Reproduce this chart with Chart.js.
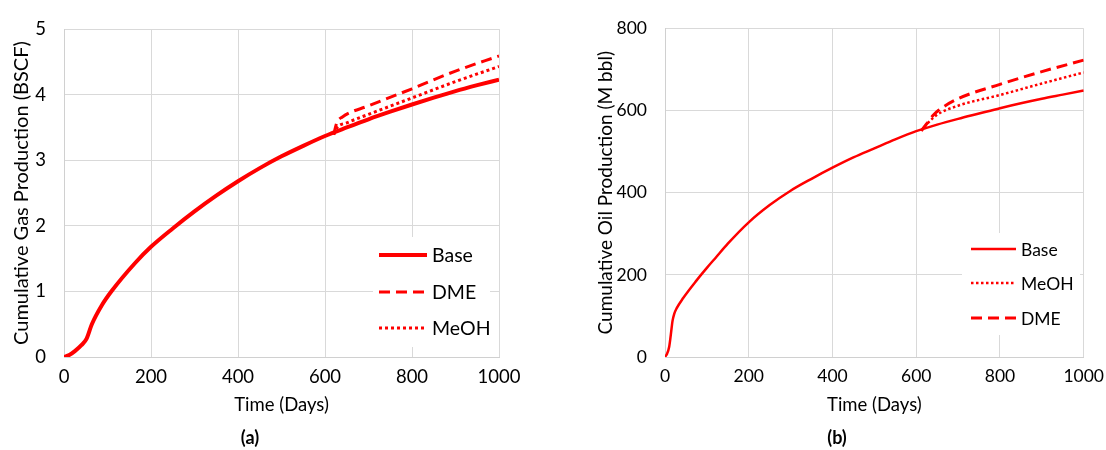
<!DOCTYPE html>
<html lang="en">
  <head>
    <meta charset="utf-8" />
    <script src="https://cdn.jsdelivr.net/npm/chart.js"></script>
    <style>
      body {
        margin: 0;
        width: 1106px;
        height: 450px;
        overflow: hidden;
        background: #fff;
        position: relative;
        font-family: Lato, sans-serif;
      }
      .panel {
        position: absolute;
        top: 0;
      }
      #panelA {
        left: 0;
      }
      #panelB {
        left: 553px;
      }
      .tag {
        position: absolute;
        top: 426px;
        font: bold 18px Lato, sans-serif;
        color: #000;
        transform: translateX(-50%);
      }
    </style>
    <title>Cumulative Production</title>
  </head>

  <body>
    <div class="panel" id="panelA">
      <canvas id="gasChart" width="553" height="450"></canvas>
    </div>
    <div class="panel" id="panelB">
      <canvas id="oilChart" width="560" height="450"></canvas>
    </div>
    <div class="tag" style="left: 250px">(a)</div>
    <div class="tag" style="left: 837px">(b)</div>

    <script>
      // (a) 累計ガス生産量 BSCF
      const gasDays = [0, 12, 25, 40, 52, 64, 87, 110, 163, 200, 250, 300, 350, 400, 450, 500, 550, 600, 650, 700, 750, 800, 850, 900, 950, 1000];
      const gasBase = [0, 0.03, 0.09, 0.18, 0.28, 0.5, 0.79, 1.01, 1.43, 1.68, 1.96, 2.22, 2.46, 2.68, 2.88, 3.06, 3.22, 3.37, 3.5, 3.625, 3.74, 3.85, 3.955, 4.055, 4.145, 4.23];
      const gasDmeDays = [620, 627, 640, 700, 800, 900, 1000];
      const gasDme = [3.39, 3.57, 3.66, 3.83, 4.09, 4.36, 4.59];
      const gasMeohDays = [620, 628, 650, 700, 800, 900, 1000];
      const gasMeoh = [3.39, 3.5, 3.57, 3.7, 3.95, 4.2, 4.43];

      // (b) 累計原油生産量 M bbl
      const oilDays = [0, 5, 10, 14, 18, 22, 28, 43, 75, 100, 122, 150, 200, 250, 300, 350, 400, 450, 500, 550, 600, 650, 700, 750, 800, 850, 900, 950, 1000];
      const oilBase = [0, 8, 25, 55, 88, 105, 119, 143, 186, 217, 243, 276, 328, 370, 405, 434, 461, 486, 508, 530, 550, 566, 580, 593, 606, 618, 629, 639, 649];
      const oilDmeDays = [612, 625, 640, 655, 700, 800, 900, 1000];
      const oilDme = [551, 568, 588, 602, 629, 664, 695, 723];
      const oilMeohDays = [612, 630, 650, 700, 800, 900, 1000];
      const oilMeoh = [551, 572, 590, 612, 638, 666, 693];

      const xTicks = [0, 200, 400, 600, 800, 1000];

      function toPoints(days, values) {
        return days.map((d, i) => ({ x: d, y: values[i] }));
      }

      // 枠内の凡例（白背景で目盛線を隠す）
      const boxLegend = {
        id: "boxLegend",
        beforeDatasetsDraw(chart, args, opts) {
          const ctx = chart.ctx;
          ctx.save();
          ctx.fillStyle = "#fff";
          ctx.fillRect(opts.x, opts.y, opts.w, opts.h);
          ctx.font = opts.fontSize + "px Lato, sans-serif";
          ctx.textBaseline = "middle";
          ctx.fillStyle = "#000";
          chart.data.datasets.forEach((ds, i) => {
            const y = opts.rows[i];
            ctx.beginPath();
            ctx.strokeStyle = ds.borderColor;
            ctx.lineWidth = ds.borderWidth;
            ctx.setLineDash(ds.borderDash || []);
            ctx.moveTo(opts.lineX0, y);
            ctx.lineTo(opts.lineX1, y);
            ctx.stroke();
            ctx.setLineDash([]);
            ctx.fillText(ds.label, opts.textX, y + 1);
          });
          ctx.restore();
        },
      };

      function makeChart(el, cfg) {
        return new Chart(el, {
          type: "line",
          plugins: [boxLegend],
          data: { datasets: cfg.datasets },
          options: {
            responsive: false,
            animation: false,
            layout: { padding: cfg.padding },
            elements: { point: { radius: 0 } },
            plugins: {
              legend: { display: false },
              tooltip: { enabled: false },
              boxLegend: cfg.legend,
            },
            scales: {
              x: {
                type: "linear",
                min: 0,
                max: 1000,
                afterBuildTicks: (scale) => {
                  scale.ticks = xTicks.map((v) => ({ value: v }));
                },
                afterFit: (scale) => {
                  scale.height = cfg.xHeight;
                },
                ticks: {
                  maxRotation: 0,
                  padding: cfg.xTickPad,
                  color: "#000",
                  font: { family: "Lato", size: cfg.tickSize },
                  callback: (v) => String(v),
                },
                grid: { color: "#d9d9d9", drawTicks: false },
                border: { color: "#d0d0d0" },
                title: {
                  display: true,
                  text: "Time (Days)",
                  color: "#000",
                  font: { family: "Lato", size: 18.5 },
                  padding: { top: 0, bottom: cfg.xTitleBottom },
                },
              },
              y: {
                min: 0,
                max: cfg.yMax,
                afterFit: (scale) => {
                  scale.width = cfg.yWidth;
                },
                ticks: {
                  stepSize: cfg.yStep,
                  padding: 18,
                  color: "#000",
                  font: { family: "Lato", size: cfg.tickSize },
                  callback: (v) => String(v),
                },
                grid: { color: "#d9d9d9", drawTicks: false },
                border: { color: "#d0d0d0" },
                title: {
                  display: true,
                  text: cfg.yTitle,
                  color: "#000",
                  font: { family: "Lato", size: cfg.yTitleSize },
                  padding: { top: cfg.yTitleTop, bottom: 0 },
                },
              },
            },
          },
        });
      }

      const red = "#ff0000";

      makeChart(document.getElementById("gasChart"), {
        padding: { top: 18, right: 54, bottom: 0, left: 0 },
        xHeight: 93,
        xTickPad: 9,
        xTitleBottom: 34,
        yWidth: 64,
        yTitleTop: 10,
        yTitleSize: 20,
        yMax: 5,
        yStep: 1,
        tickSize: 18.5,
        yTitle: "Cumulative Gas Production (BSCF)",
        legend: {
          x: 373, y: 237, w: 117, h: 110,
          rows: [255, 292, 328],
          lineX0: 379, lineX1: 427, textX: 432,
          fontSize: 19.5,
        },
        datasets: [
          {
            label: "Base",
            data: toPoints(gasDays, gasBase),
            borderColor: red,
            borderWidth: 4,
            cubicInterpolationMode: "monotone",
          },
          {
            label: "DME",
            data: toPoints(gasDmeDays, gasDme),
            borderColor: red,
            borderWidth: 3,
            borderDash: [11, 6],
            cubicInterpolationMode: "monotone",
          },
          {
            label: "MeOH",
            data: toPoints(gasMeohDays, gasMeoh),
            borderColor: red,
            borderWidth: 3,
            borderDash: [3, 3],
            cubicInterpolationMode: "monotone",
          },
        ],
      });

      makeChart(document.getElementById("oilChart"), {
        padding: { top: 20, right: 26, bottom: 0, left: 0 },
        xHeight: 93,
        xTickPad: 9,
        xTitleBottom: 34,
        yWidth: 112,
        yTitleTop: 41,
        yTitleSize: 19,
        yMax: 800,
        yStep: 200,
        tickSize: 17.5,
        yTitle: "Cumulative Oil Production (M bbl)",
        legend: {
          x: 409, y: 233, w: 118, h: 102,
          rows: [249, 283, 318],
          lineX0: 418, lineX1: 463, textX: 468,
          fontSize: 17.5,
        },
        datasets: [
          {
            label: "Base",
            data: toPoints(oilDays, oilBase),
            borderColor: red,
            borderWidth: 2.5,
            cubicInterpolationMode: "monotone",
          },
          {
            label: "MeOH",
            data: toPoints(oilMeohDays, oilMeoh),
            borderColor: red,
            borderWidth: 2.5,
            borderDash: [2.5, 2.5],
            cubicInterpolationMode: "monotone",
          },
          {
            label: "DME",
            data: toPoints(oilDmeDays, oilDme),
            borderColor: red,
            borderWidth: 3,
            borderDash: [11, 6],
            cubicInterpolationMode: "monotone",
          },
        ],
      });
    </script>
  </body>
</html>
